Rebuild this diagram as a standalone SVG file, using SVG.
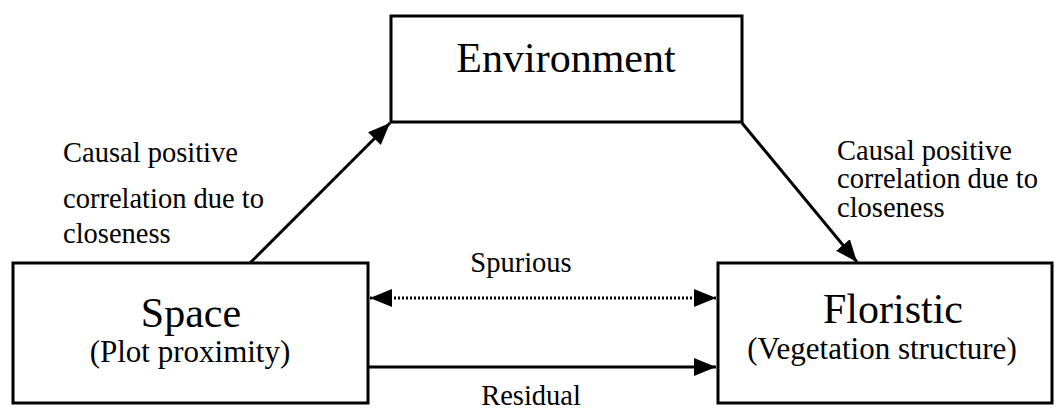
<svg xmlns="http://www.w3.org/2000/svg" width="1062" height="410" viewBox="0 0 1062 410">
<style>
.box{fill:#fff;stroke:#000;stroke-width:3}
text{font-family:"Liberation Serif","Times New Roman",serif;fill:#000}
.big{font-size:42px}
.sub{font-size:31px}
.lab{font-size:28.5px}
.ln{stroke:#000;stroke-width:3;fill:none}
.dot{stroke:#000;stroke-width:3;fill:none;stroke-dasharray:2 2}
</style>
<defs>
<marker id="ah" markerUnits="userSpaceOnUse" markerWidth="24" markerHeight="20" refX="22" refY="10" orient="auto-start-reverse" viewBox="0 0 24 20">
<path d="M0,1 L22,10 L0,19 Z" fill="#000"/>
</marker>
</defs>
<rect width="1062" height="410" fill="#fff"/>
<g id="environment">
<rect class="box" x="391" y="16" width="351" height="106"/>
<text class="big" x="566" y="72" text-anchor="middle">Environment</text>
</g>
<g id="space">
<rect class="box" x="13" y="263" width="355" height="140"/>
<text class="big" x="191" y="327" text-anchor="middle">Space</text>
<text class="sub" x="190" y="362" text-anchor="middle">(Plot proximity)</text>
</g>
<g id="floristic">
<rect class="box" x="718" y="263" width="334" height="140"/>
<text class="big" x="893" y="323" text-anchor="middle">Floristic</text>
<text class="sub" x="882" y="359" text-anchor="middle">(Vegetation structure)</text>
</g>
<g id="connectors">
<line class="ln" x1="250" y1="263" x2="390" y2="123" marker-end="url(#ah)"/>
<line class="ln" x1="742" y1="123" x2="857" y2="262" marker-end="url(#ah)"/>
<line class="dot" x1="370" y1="298" x2="716" y2="298" marker-start="url(#ah)" marker-end="url(#ah)"/>
<line class="ln" x1="368" y1="367" x2="716" y2="367" marker-end="url(#ah)"/>
</g>
<g id="labels">
<text class="lab" x="63" y="162">Causal positive</text>
<text class="lab" x="63" y="208">correlation due to</text>
<text class="lab" x="63" y="243">closeness</text>
<text class="lab" x="837" y="160">Causal positive</text>
<text class="lab" x="837" y="188">correlation due to</text>
<text class="lab" x="837" y="217">closeness</text>
<text class="lab" x="521" y="272" text-anchor="middle">Spurious</text>
<text class="lab" x="531" y="405" text-anchor="middle">Residual</text>
</g>
</svg>
